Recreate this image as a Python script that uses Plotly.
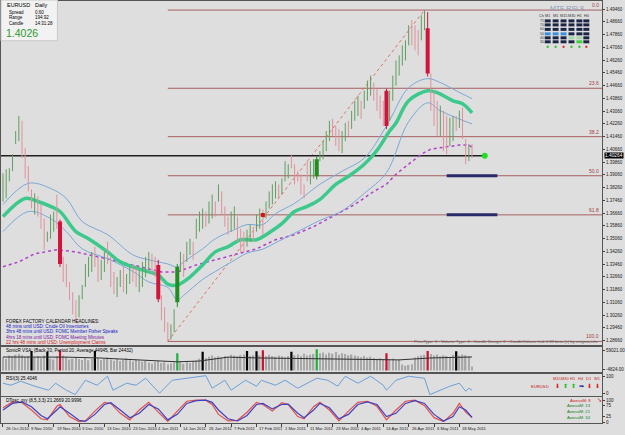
import plotly.graph_objects as go

# ---------------- data ----------------
date_labels = ["26 Oct 2010", "9 Nov 2010", "19 Nov 2010", "3 Dec 2010", "13 Dec 2010",
               "23 Dec 2010", "4 Jan 2011", "14 Jan 2011", "26 Jan 2011", "7 Feb 2011",
               "17 Feb 2011", "1 Mar 2011", "11 Mar 2011", "23 Mar 2011", "4 Apr 2011",
               "14 Apr 2011", "26 Apr 2011", "6 May 2011", "18 May 2011"]
label_bars = [0, 8, 16, 24, 32, 40, 48, 56, 64, 72, 80, 88, 96, 104, 112, 120, 128, 136, 144]

highs = [1.3916, 1.3941, 1.3948, 1.4036, 1.4181, 1.4276, 1.4245, 1.4074, 1.3960, 1.3815,
         1.3790, 1.3771, 1.3720, 1.3632, 1.3550, 1.3657, 1.3676, 1.3783, 1.3625, 1.3392,
         1.3347, 1.3234, 1.3170, 1.3120, 1.3151, 1.3215, 1.3347, 1.3392, 1.3423, 1.3455,
         1.3392, 1.3373, 1.3423, 1.3486, 1.3392, 1.3297, 1.3265, 1.3309, 1.3328, 1.3284,
         1.3328, 1.3347, 1.3328, 1.3309, 1.3360, 1.3392, 1.3423, 1.3411, 1.3392, 1.3373,
         1.3151, 1.3076, 1.2981, 1.2968, 1.3063, 1.3347, 1.3423, 1.3411, 1.3486, 1.3505,
         1.3486, 1.3632, 1.3676, 1.3695, 1.3676, 1.3739, 1.3783, 1.3739, 1.3846, 1.3802,
         1.3708, 1.3644, 1.3676, 1.3708, 1.3644, 1.3568, 1.3550, 1.3562, 1.3594, 1.3581,
         1.3657, 1.3695, 1.3689, 1.3739, 1.3802, 1.3846, 1.3865, 1.3846, 1.3884, 1.3992,
         1.3973, 1.4036, 1.3973, 1.3929, 1.3910, 1.3846, 1.3992, 1.3992, 1.4004, 1.4023,
         1.4055, 1.4118, 1.4181, 1.4245, 1.4257, 1.4213, 1.4194, 1.4181, 1.4232, 1.4245,
         1.4308, 1.4371, 1.4403, 1.4371, 1.4434, 1.4498, 1.4529, 1.4485, 1.4447, 1.4403,
         1.4371, 1.4447, 1.4434, 1.4529, 1.4624, 1.4656, 1.4719, 1.4750, 1.4845, 1.4877,
         1.4845, 1.4814, 1.4908, 1.4940, 1.4927, 1.4542, 1.4434, 1.4371, 1.4340, 1.4308,
         1.4276, 1.4264, 1.4276, 1.4276, 1.4308, 1.4327, 1.4131, 1.4099, 1.4099]
lows = [1.3739, 1.3758, 1.3865, 1.3929, 1.4099, 1.4118, 1.4011, 1.3884, 1.3802, 1.3695,
        1.3657, 1.3644, 1.3568, 1.3436, 1.3486, 1.3505, 1.3550, 1.3568, 1.3328, 1.3234,
        1.3202, 1.3120, 1.3031, 1.2981, 1.3012, 1.3126, 1.3202, 1.3265, 1.3297, 1.3328,
        1.3234, 1.3246, 1.3297, 1.3347, 1.3202, 1.3158, 1.3139, 1.3202, 1.3170, 1.3158,
        1.3221, 1.3234, 1.3202, 1.3170, 1.3202, 1.3265, 1.3309, 1.3284, 1.3265, 1.3107,
        1.2993, 1.2918, 1.2861, 1.2873, 1.2918, 1.3076, 1.3297, 1.3265, 1.3360, 1.3404,
        1.3373, 1.3505, 1.3550, 1.3568, 1.3581, 1.3600, 1.3632, 1.3644, 1.3739, 1.3657,
        1.3581, 1.3531, 1.3550, 1.3568, 1.3486, 1.3423, 1.3423, 1.3455, 1.3486, 1.3486,
        1.3550, 1.3568, 1.3531, 1.3632, 1.3695, 1.3720, 1.3758, 1.3758, 1.3783, 1.3865,
        1.3884, 1.3948, 1.3846, 1.3865, 1.3783, 1.3758, 1.3865, 1.3846, 1.3884, 1.3878,
        1.3992, 1.4004, 1.4055, 1.4118, 1.4150, 1.4087, 1.4055, 1.4042, 1.4118, 1.4150,
        1.4194, 1.4245, 1.4276, 1.4257, 1.4321, 1.4371, 1.4403, 1.4371, 1.4308, 1.4257,
        1.4213, 1.4194, 1.4245, 1.4371, 1.4466, 1.4529, 1.4592, 1.4624, 1.4719, 1.4719,
        1.4687, 1.4656, 1.4750, 1.4814, 1.4523, 1.4308, 1.4213, 1.4150, 1.4150, 1.4055,
        1.4036, 1.4087, 1.4118, 1.4181, 1.4200, 1.4131, 1.3973, 1.3992, 1.4011]
opens = [1.3760, 1.3780, 1.3880, 1.3940, 1.4110, 1.4150, 1.4230, 1.4060, 1.3950, 1.3805,
         1.3680, 1.3760, 1.3710, 1.3620, 1.3495, 1.3520, 1.3570, 1.3770, 1.3613, 1.3380,
         1.3335, 1.3225, 1.3160, 1.3110, 1.3025, 1.3135, 1.3210, 1.3280, 1.3310, 1.3440,
         1.3380, 1.3260, 1.3310, 1.3475, 1.3380, 1.3285, 1.3150, 1.3215, 1.3315, 1.3170,
         1.3235, 1.3335, 1.3320, 1.3185, 1.3220, 1.3280, 1.3320, 1.3400, 1.3380, 1.3341,
         1.3140, 1.3065, 1.2970, 1.2885, 1.2935, 1.3107, 1.3310, 1.3400, 1.3370, 1.3415,
         1.3475, 1.3515, 1.3565, 1.3580, 1.3670, 1.3610, 1.3645, 1.3730, 1.3750, 1.3790,
         1.3700, 1.3635, 1.3560, 1.3580, 1.3635, 1.3555, 1.3540, 1.3465, 1.3495, 1.3575,
         1.3560, 1.3580, 1.3680, 1.3640, 1.3705, 1.3730, 1.3770, 1.3840, 1.3790, 1.3880,
         1.3890, 1.4025, 1.3960, 1.3920, 1.3900, 1.3840, 1.3980, 1.3860, 1.3895, 1.3897,
         1.4000, 1.4015, 1.4065, 1.4130, 1.4245, 1.4200, 1.4185, 1.4055, 1.4130, 1.4235,
         1.4205, 1.4255, 1.4290, 1.4360, 1.4330, 1.4385, 1.4415, 1.4475, 1.4435, 1.4390,
         1.4360, 1.4434, 1.4260, 1.4385, 1.4480, 1.4540, 1.4605, 1.4635, 1.4730, 1.4865,
         1.4835, 1.4800, 1.4765, 1.4830, 1.4826, 1.4530, 1.4420, 1.4355, 1.4165, 1.4295,
         1.4265, 1.4100, 1.4130, 1.4265, 1.4210, 1.4315, 1.4120, 1.4000, 1.4090]
closes = [1.3905, 1.3930, 1.3940, 1.4025, 1.4170, 1.4260, 1.4030, 1.3900, 1.3820, 1.3710,
          1.3775, 1.3660, 1.3590, 1.3460, 1.3540, 1.3640, 1.3665, 1.3590, 1.3347, 1.3250,
          1.3215, 1.3130, 1.3045, 1.2995, 1.3140, 1.3205, 1.3335, 1.3380, 1.3410, 1.3340,
          1.3250, 1.3360, 1.3410, 1.3360, 1.3220, 1.3170, 1.3255, 1.3300, 1.3185, 1.3275,
          1.3320, 1.3245, 1.3215, 1.3295, 1.3350, 1.3380, 1.3410, 1.3295, 1.3280, 1.3126,
          1.3010, 1.2935, 1.2880, 1.2960, 1.3050, 1.3328, 1.3410, 1.3280, 1.3475, 1.3495,
          1.3385, 1.3620, 1.3665, 1.3685, 1.3590, 1.3730, 1.3770, 1.3655, 1.3835, 1.3670,
          1.3595, 1.3545, 1.3665, 1.3695, 1.3500, 1.3440, 1.3435, 1.3550, 1.3585, 1.3495,
          1.3645, 1.3685, 1.3545, 1.3730, 1.3795, 1.3835, 1.3855, 1.3770, 1.3875, 1.3980,
          1.3965, 1.3955, 1.3860, 1.3875, 1.3795, 1.3770, 1.3880, 1.3980, 1.3995, 1.4004,
          1.4045, 1.4105, 1.4170, 1.4235, 1.4160, 1.4100, 1.4070, 1.4170, 1.4220, 1.4160,
          1.4295, 1.4360, 1.4390, 1.4270, 1.4425, 1.4485, 1.4515, 1.4385, 1.4320, 1.4270,
          1.4230, 1.4213, 1.4420, 1.4515, 1.4610, 1.4645, 1.4705, 1.4740, 1.4835, 1.4735,
          1.4700, 1.4670, 1.4895, 1.4925, 1.4542, 1.4320, 1.4230, 1.4165, 1.4325, 1.4070,
          1.4050, 1.4250, 1.4265, 1.4190, 1.4295, 1.4145, 1.3990, 1.4090, 1.4026]
thick_bars = [18, 49, 55, 99, 121, 134]

ma_x = [0, 7, 11, 15, 18, 23, 27, 33, 37, 46, 49, 52, 55, 59, 63, 67, 71, 75, 80, 83,
        88, 92, 96, 100, 105, 109, 114, 118, 122, 124, 128, 134, 137, 142, 145, 148]
ma_mid = [1.3644, 1.3758, 1.3739, 1.3708, 1.3676, 1.3550, 1.3505, 1.3423, 1.3360, 1.3297,
          1.3278, 1.3221, 1.3215, 1.3265, 1.3341, 1.3423, 1.3455, 1.3499, 1.3499, 1.3531,
          1.3600, 1.3676, 1.3708, 1.3752, 1.3846, 1.3897, 1.3973, 1.4060, 1.4181, 1.4232,
          1.4371, 1.4434, 1.4422, 1.4371, 1.4352, 1.4295]
band_x = [0, 8, 15, 20, 25, 33, 41, 46, 52, 55, 57, 63, 67, 73, 77, 82, 86, 92, 100,
          107, 114, 121, 128, 134, 138, 143, 148]
band_up = [1.3720, 1.3853, 1.3821, 1.3758, 1.3613, 1.3531, 1.3404, 1.3373, 1.3347, 1.3328,
           1.3360, 1.3442, 1.3505, 1.3562, 1.3594, 1.3594, 1.3663, 1.3727, 1.3847, 1.3929,
           1.4011, 1.4213, 1.4453, 1.4510, 1.4485, 1.4434, 1.4384]
band_lo = [1.3550, 1.3676, 1.3632, 1.3550, 1.3442, 1.3380, 1.3300, 1.3234, 1.3200, 1.3120,
           1.3150, 1.3250, 1.3300, 1.3370, 1.3415, 1.3440, 1.3480, 1.3540, 1.3620, 1.3680,
           1.3790, 1.3920, 1.4240, 1.4358, 1.4308, 1.4264, 1.4226]
slow_x = [0, 5, 10, 17, 23, 33, 37, 46, 50, 55, 61, 67, 73, 80, 86, 92, 98, 105, 111,
          117, 121, 124, 132, 135, 139, 144, 147, 148]
slow_ma = [1.3330, 1.3360, 1.3411, 1.3436, 1.3423, 1.3379, 1.3360, 1.3316, 1.3297, 1.3297,
           1.3341, 1.3373, 1.3404, 1.3442, 1.3499, 1.3531, 1.3581, 1.3657, 1.3720, 1.3802,
           1.3847, 1.3910, 1.4036, 1.4068, 1.4080, 1.4093, 1.4093, 1.4080]

swing_low_bar, swing_low = 52, 1.2861
swing_high_bar, swing_high = 133, 1.4940
fib_ratios = [0.0, 23.6, 38.2, 50.0, 61.8, 100.0]
last_price = 1.4026
price_ticks = [1.28660, 1.29460, 1.30260, 1.31060, 1.31860, 1.32660, 1.33460, 1.34260,
               1.35060, 1.35860, 1.36660, 1.37460, 1.38260, 1.39060, 1.39860, 1.40660,
               1.41460, 1.42260, 1.43060, 1.43860, 1.44660, 1.45460, 1.46260, 1.47060,
               1.47860, 1.48660, 1.49460]

volumes = [34000, 30000, 38000, 36000, 40000, 42000, 39000, 35000, 37000, 50000,
           33000, 36000, 31000, 38000, 48000, 30000, 28000, 36000, 52000, 38000,
           35000, 28000, 30000, 33000, 29000, 27000, 31000, 26000, 30000, 50000,
           32000, 27000, 29000, 33000, 28000, 25000, 30000, 24000, 27000, 31000,
           26000, 23000, 28000, 25000, 22000, 24000, 20000, 18000, 22000, 24000,
           19000, 21000, 16000, 18000, 20000, 44000, 22000, 17000, 21000, 19000,
           23000, 25000, 30000, 48000, 32000, 35000, 38000, 34000, 36000, 33000,
           37000, 35000, 40000, 38000, 36000, 39000, 41000, 50000, 37000, 39000,
           49000, 38000, 52000, 36000, 40000, 37000, 35000, 38000, 36000, 34000,
           37000, 48000, 39000, 41000, 36000, 43000, 38000, 40000, 42000, 54000,
           44000, 46000, 41000, 45000, 43000, 47000, 40000, 44000, 42000, 39000,
           41000, 38000, 36000, 34000, 37000, 33000, 35000, 32000, 30000, 31000,
           29000, 44000, 27000, 30000, 26000, 28000, 15000, 12000, 14000, 16000,
           33000, 36000, 38000, 40000, 50000, 42000, 38000, 41000, 36000, 39000,
           37000, 35000, 40000, 49000, 38000, 41000, 39000, 36000, 10000]
vol_black = [9, 14, 29, 63, 77, 80, 91, 143]
vol_red = [18, 82, 121, 134]
vol_green = [55, 99]
vol_avg_x = [0, 10, 20, 30, 40, 47, 55, 62, 71, 80, 90, 100, 110, 118, 125, 135, 148]
vol_avg = [34400, 35000, 34000, 32000, 28000, 24000, 22000, 24000, 34000, 32000,
           31000, 30000, 29500, 29000, 27000, 32000, 34400]

rsi_x = [0, 2.5, 5.6, 10, 14.4, 16.6, 20, 22.8, 26, 29.7, 33, 34.7, 39, 42, 45, 49.4,
         53.4, 57.8, 62, 64, 66, 70, 72, 76.5, 80, 81.5, 86, 89, 93, 97, 99, 102.5,
         105.6, 108, 112, 116, 120, 121, 124, 128, 133, 134.7, 138, 141, 144, 146, 147, 148]
rsi = [60, 50, 70, 45, 25, 60, 25, 3, 75, 50, 95, 25, 60, 50, 85, 10,
       75, 85, 95, 98, 35, 75, 25, 75, 45, 75, 50, 75, 35, 70, 85, 75,
       45, 95, 60, 95, 50, 25, 75, 95, 85, 3, 25, 45, 60, 20, 35, 25.4]

osc_x = [0, 3, 6, 9, 12, 14, 17, 18, 21, 24, 26, 29, 32, 34, 37, 40, 43, 46, 49, 52,
         55, 58, 61, 64, 66, 68, 71, 74, 77, 80, 82, 85, 88, 90, 93, 95, 98, 100, 103, 106,
         109, 112, 115, 118, 121, 124, 127, 130, 133, 136, 139, 142, 144, 146, 148]
osc_blue = [55, 85, 92, 70, 30, 15, 55, 70, 40, 8, 3, 35, 80, 88, 55, 20, 40, 80, 60, 10,
            35, 85, 98, 100, 90, 55, 15, 5, 30, 80, 85, 60, 80, 82, 40, 20, 55, 85, 65, 15,
            35, 80, 92, 80, 25, 40, 85, 98, 85, 35, 5, 25, 70, 55, 21.3]
osc_red = [65, 92, 88, 55, 15, 10, 72, 80, 25, 2, 5, 50, 90, 85, 40, 10, 55, 90, 45, 3,
           50, 95, 100, 100, 80, 35, 5, 8, 45, 90, 80, 50, 88, 80, 25, 15, 70, 90, 55, 5,
           50, 90, 95, 72, 10, 55, 95, 100, 75, 20, 2, 40, 85, 45, 21.0]

# ---------------- helpers (layout only) ----------------
W, H = 625, 435
def fy(px):
    return 1 - px / H
def fx(px):
    return px / W

n = len(highs)
BG = "#dedede"
FONT = "Liberation Sans"

fig = go.Figure()

span = swing_high - swing_low
fib_levels = [swing_high - r / 100 * span for r in fib_ratios]
for lv in fib_levels:
    fig.add_trace(go.Scatter(x=[swing_low_bar, 189.5], y=[lv, lv], mode="lines",
                             line=dict(color="#a86060", width=1), hoverinfo="skip"))
for lv in fib_levels[3:5]:
    fig.add_trace(go.Scatter(x=[140, 156], y=[lv, lv], mode="lines",
                             line=dict(color="#2a2a6a", width=3), hoverinfo="skip"))
fig.add_trace(go.Scatter(x=[swing_low_bar, swing_high_bar], y=[swing_low, swing_high], mode="lines",
                         line=dict(color="#e07060", width=1, dash="dot"), hoverinfo="skip"))
fig.add_trace(go.Scatter(x=[-1, 152], y=[last_price, last_price], mode="lines",
                         line=dict(color="#202020", width=1.5), hoverinfo="skip"))
fig.add_trace(go.Scatter(x=[152], y=[last_price], mode="markers",
                         marker=dict(color="#22dd22", size=6), hoverinfo="skip"))

fig.add_trace(go.Scatter(x=slow_x, y=slow_ma, mode="lines", line=dict(color="#b040c8", width=1.5, dash="dot"), hoverinfo="skip"))
fig.add_trace(go.Scatter(x=band_x, y=band_up, mode="lines", line=dict(color="#7aa8d8", width=1, shape="spline"), hoverinfo="skip"))
fig.add_trace(go.Scatter(x=band_x, y=band_lo, mode="lines", line=dict(color="#7aa8d8", width=1, shape="spline"), hoverinfo="skip"))
fig.add_trace(go.Scatter(x=ma_x, y=ma_mid, mode="lines", line=dict(color="#3cc98c", width=3.5, shape="spline"), hoverinfo="skip"))

ux, uy, dx, dy = [], [], [], []
for i in range(n):
    if i in thick_bars:
        continue
    if closes[i] >= opens[i]:
        ux += [i, i, None]; uy += [lows[i], highs[i], None]
    else:
        dx += [i, i, None]; dy += [lows[i], highs[i], None]
fig.add_trace(go.Scatter(x=ux, y=uy, mode="lines", line=dict(color="#5f9f5f", width=1), hoverinfo="skip"))
fig.add_trace(go.Scatter(x=dx, y=dy, mode="lines", line=dict(color="#e0909c", width=1), hoverinfo="skip"))
for i in thick_bars:
    col = "#1f8f1f" if closes[i] >= opens[i] else "#d0143c"
    fig.add_trace(go.Scatter(x=[i, i], y=[lows[i], highs[i]], mode="lines", line=dict(color=col, width=1), hoverinfo="skip"))
    fig.add_trace(go.Scatter(x=[i, i], y=[opens[i], closes[i]], mode="lines", line=dict(color=col, width=4), hoverinfo="skip"))
fig.add_trace(go.Scatter(x=[82], y=[1.3655], mode="markers", marker=dict(color="#dd1111", size=4, symbol="square"), hoverinfo="skip"))

vcol, vw = [], []
for i in range(n):
    if i in vol_black:
        vcol.append("#000000"); vw.append(0.7)
    elif i in vol_red:
        vcol.append("#cc1030"); vw.append(0.7)
    elif i in vol_green:
        vcol.append("#20b040"); vw.append(0.7)
    else:
        vcol.append("#a8a8a8"); vw.append(0.45)
fig.add_trace(go.Bar(x=list(range(n)), y=volumes, width=vw, marker=dict(color=vcol, line=dict(width=0)),
                     xaxis="x2", yaxis="y2", hoverinfo="skip"))
fig.add_trace(go.Scatter(x=vol_avg_x, y=vol_avg, mode="lines", line=dict(color="#303030", width=1),
                         xaxis="x2", yaxis="y2", hoverinfo="skip"))
fig.add_trace(go.Scatter(x=rsi_x, y=rsi, mode="lines", line=dict(color="#6a9fd8", width=1),
                         xaxis="x3", yaxis="y3", hoverinfo="skip"))
fig.add_trace(go.Scatter(x=osc_x, y=osc_red, mode="lines", line=dict(color="#e05050", width=1.2),
                         xaxis="x4", yaxis="y4", hoverinfo="skip"))
fig.add_trace(go.Scatter(x=osc_x, y=osc_blue, mode="lines", line=dict(color="#4040c0", width=1.2),
                         xaxis="x4", yaxis="y4", hoverinfo="skip"))

xr = [-0.625, 189.06]
xdom = [0, fx(607)]
axcommon = dict(range=xr, domain=xdom, showgrid=False, zeroline=False, showline=True, mirror=True,
                linecolor="#555555", linewidth=1, showticklabels=False, fixedrange=True)
ycommon = dict(showgrid=False, zeroline=False, showline=True, mirror=True, linecolor="#555555",
               linewidth=1, side="right", ticks="outside", ticklen=2, tickcolor="#404040",
               tickfont=dict(family=FONT, size=4.5, color="#202020"), fixedrange=True)

fig.update_layout(
    width=W, height=H, margin=dict(l=0, r=0, t=0, b=0),
    paper_bgcolor=BG, plot_bgcolor=BG, showlegend=False,
    xaxis=dict(**axcommon, anchor="y"),
    xaxis2=dict(**axcommon, anchor="y2"),
    xaxis3=dict(**axcommon, anchor="y3"),
    xaxis4=dict(**{**axcommon, "ticks": "outside", "ticklen": 3, "tickcolor": "#404040",
                   "tickvals": label_bars}, anchor="y4"),
    yaxis=dict(**ycommon, domain=[fy(347), fy(1)], range=[1.28360, 1.49970], anchor="x",
               tickvals=price_ticks, tickformat=".5f"),
    yaxis2=dict(**ycommon, domain=[fy(374), fy(349)], range=[-4824, 59021], anchor="x2",
                tickvals=[52000, 3000], ticktext=["59021.00", "-4824.00"]),
    yaxis3=dict(**ycommon, domain=[fy(398), fy(376)], range=[-5, 105], anchor="x3",
                tickvals=[92, 8], ticktext=["100", "0"]),
    yaxis4=dict(**ycommon, domain=[fy(425), fy(399)], range=[-4.5, 113.6], anchor="x4",
                tickvals=[100, 75, 25, 0]),
)

ann = []
def txt(x, y, s, size=6, color="#000000", xa="left", ya="middle", xref="paper", yref="paper", **kw):
    ann.append(dict(x=x, y=y, text=s, showarrow=False, xanchor=xa, yanchor=ya, xref=xref, yref=yref,
                    font=dict(family=FONT, size=size, color=color), **kw))

for b, s in zip(label_bars, date_labels):
    txt(b + 0.3, fy(430.5), s, size=4.2, color="#202020", xref="x4")
for r, lv in zip(fib_ratios, fib_levels):
    txt(fx(606), lv, f"{r:.1f}", size=5, color="#a04040", xa="right", ya="bottom", yref="y")
txt(fx(608.5), last_price, "1.40264", size=4.8, color="#ffffff", yref="y", bgcolor="#000000",
    borderpad=0)

fig.add_shape(type="rect", xref="paper", yref="paper", x0=0, x1=fx(57), y0=fy(41), y1=fy(0),
              fillcolor="#f2f2f2", line=dict(color="#c8c8c8", width=1))
txt(fx(4), fy(5.5), "EURUSD", 5.5)
txt(fx(32), fy(5.5), "Daily", 5.5)
for k, (a, b) in enumerate([("Spread", "0.60"), ("Range", "194.92"), ("Candle", "14:31:28")]):
    txt(fx(6), fy(12.5 + 5.5 * k), a, 4.5)
    txt(fx(32), fy(12.5 + 5.5 * k), b, 4.5)
txt(fx(3), fy(33), "1.4026", 10.5, color="#2a9a2a")

news = [("FOREX FACTORY CALENDAR HEADLINES:", "#000000"),
        ("48 mins until USD: Crude Oil Inventories", "#2020c0"),
        ("3hrs 48 mins until USD: FOMC Member Fisher Speaks", "#2020c0"),
        ("4hrs 18 mins until USD: FOMC Meeting Minutes", "#7a20a0"),
        ("22 hrs 48 mins until USD: Unemployment Claims", "#d02020")]
for k, (s, c) in enumerate(news):
    txt(fx(3), fy(323 + 5.2 * k), s, 4.6, color=c)
txt(fx(605), fy(343.5), "PriceType: 1 - Volume Type: 4 - Candle Design: 2 - CandleVolume Indi 0.83 beta (c) by enigma.info",
    4.2, color="#606060", xa="right")

txt(fx(3), fy(352.5), "SonicR VSA: (Back 20, Period 20, Average 44945, Bar 24432)", 4.6)
txt(fx(3), fy(380), "RSI(3) 25.4046", 4.6)
txt(fx(3), fy(402), "DTosc_my (8,5,3,3) 21.2669 20.9996", 4.6)

tfs = ["M15", "M30", "H1", "H4", "D1", "W1"]
arr = [("⬇", "#dd2020"), ("⬆", "#22bb22"), ("⬆", "#22bb22"), ("➡", "#2020a0"), ("⬇", "#dd2020"), ("⬇", "#dd2020")]
for k, t in enumerate(tfs):
    txt(fx(562 + 8 * k), fy(380.5), t, 4, color="#cc2020", xa="center")
    txt(fx(562 + 8 * k), fy(388), arr[k][0], 5.5, color=arr[k][1], xa="center")
txt(fx(555), fy(388), "EURUSD", 4.2, color="#cc2020", xa="right")

aw = [("AwesoM: 8", "#cc2020"), ("AwesoM: 13", "#208020"), ("AwesoM: 21", "#208020"), ("AwesoM: 34", "#208020")]
for k, (s, c) in enumerate(aw):
    txt(fx(598), fy(402 + 5.8 * k), s, 4.2, color=c, xa="right")
txt(fx(600), fy(402), "➘", 5.5, color="#cc2020")

txt(fx(571), fy(9), "MTF RSI 8", 7, color="#8a9ab8", xa="center")
heads = ["M1", "M5", "M15", "M30", "H1", "H4"]
colx = [552, 560, 568, 576, 584, 591]
txt(fx(546), fy(16.5), "Ch", 3.8, color="#333333", xa="center")
for k, h in enumerate(heads):
    txt(fx(colx[k]), fy(16.5), h, 3.8, color="#333333", xa="center")
rowy = [21, 25, 29.5, 34, 38, 42]
rowlab = ["75", "70", "60", "50", "40", "30"]
for r, yy in enumerate(rowy):
    txt(fx(546), fy(yy), rowlab[r], 3.5, color="#333333", xa="center")
    for k, cx in enumerate(colx):
        col = "#1c2444"
        if r == 3 and k < 3:
            col = "#3d8fd8"
        if r == 4 and k in (3, 4):
            col = "#a8d8a8"
        if r == 5 and k == 4:
            col = "#40d040"
        fig.add_shape(type="rect", xref="paper", yref="paper", x0=fx(cx - 3), x1=fx(cx + 3),
                      y0=fy(yy + 1.5), y1=fy(yy - 1.5), fillcolor=col, line=dict(width=0))
dots = ["#22bb22", "#22bb22", "#dd2020", "#22bb22", "#22bb22", "#dd2020"]
for k, cx in enumerate(colx):
    fig.add_shape(type="rect", xref="paper", yref="paper", x0=fx(cx - 1), x1=fx(cx + 1),
                  y0=fy(48), y1=fy(46), fillcolor=dots[k], line=dict(width=0))

fig.update_layout(annotations=ann)
fig.write_html("out.html")
